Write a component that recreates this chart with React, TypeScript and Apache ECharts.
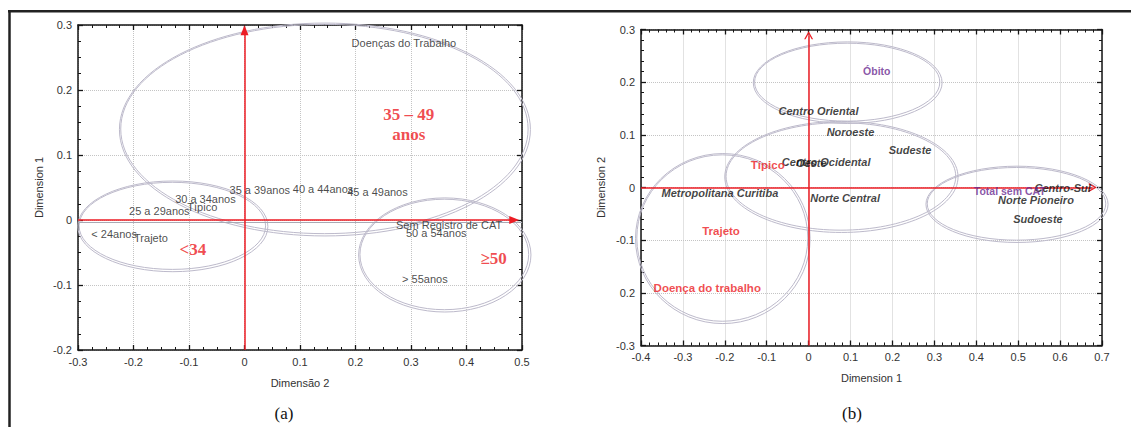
import React, { useEffect, useRef } from "react";
import * as echarts from "echarts";

// ---------- Panel (a) data ----------
const namesA = ["Doenças do Trabalho", "35 a 39anos", "40 a 44anos", "45 a 49anos", "30 a 34anos", "Típico", "25 a 29anos", "< 24anos", "Trajeto", "Sem Registro de CAT", "50 a 54anos", "> 55anos"];
const xA = [0.193, -0.027, 0.087, 0.185, -0.125, -0.103, -0.208, -0.276, -0.199, 0.273, 0.291, 0.284];
const yA = [0.272, 0.046, 0.047, 0.043, 0.033, 0.02, 0.014, -0.021, -0.027, -0.008, -0.02, -0.091];

const groupNamesA = ["35 – 49", "anos", "<34", "≥50"];
const groupXA = [0.296, 0.296, -0.093, 0.449];
const groupYA = [0.162, 0.131, -0.046, -0.059];

// ellipses: [centerX, centerY, radiusX, radiusY]
const ellipsesA = [
  [0.144, 0.14, 0.367, 0.161],
  [-0.13, -0.009, 0.168, 0.067],
  [0.36, -0.053, 0.152, 0.085],
];

const xTicksA = [-0.3, 0.5, 0.1];
const yTicksA = [-0.2, 0.3, 0.1];
const arrowA = { vx: 0, vFrom: -0.2, vTo: 0.292, hy: 0, hFrom: -0.3, hTo: 0.486, zeroGrayY: -0.004 };

// ---------- Panel (b) data ----------
const regionNamesB = ["Centro Oriental", "Noroeste", "Sudeste", "Centro Ocidental", "Oeste", "Metropolitana Curitiba", "Norte Central", "Centro-Sul", "Norte Pioneiro", "Sudoeste"];
const regionXB = [-0.072, 0.043, 0.191, -0.064, -0.03, -0.351, 0.004, 0.539, 0.452, 0.488];
const regionYB = [0.145, 0.105, 0.072, 0.048, 0.046, -0.011, -0.019, 0.0, -0.024, -0.0595];

const typeNamesB = ["Típico", "Trajeto", "Doença do trabalho"];
const typeXB = [-0.138, -0.254, -0.37];
const typeYB = [0.043, -0.082, -0.191];

const outcomeNamesB = ["Óbito", "Total sem CAT"];
const outcomeXB = [0.13, 0.394];
const outcomeYB = [0.222, -0.006];

const ellipsesB = [
  [0.092, 0.2, 0.221, 0.074],
  [0.077, 0.021, 0.274, 0.102],
  [-0.206, -0.096, 0.204, 0.158],
  [0.496, -0.031, 0.213, 0.069],
];

const xTicksB = [-0.4, 0.7, 0.1];
const yTicksB = [-0.3, 0.3, 0.1];
const yTickLabelsB = ["-0.3", "0.2", "-0.1", "0", "0.1", "0.2", "0.3"];
const arrowB = { vx: 0, vFrom: -0.3, vTo: 0.289, hy: 0, hFrom: -0.4, hTo: 0.678 };

// ---------- styles ----------
const RED = "#ec1c24";
const PURPLE = "#6a2a90";
const ELLIPSE = "#bdbacb";
const AXIS = "#151515";
const LABEL_FONT = "Liberation Sans";

function ellipseRender(params: any, api: any) {
  const c = api.coord([api.value(0), api.value(1)]);
  const s = api.size([api.value(2), api.value(3)]);
  const style = { fill: "none", stroke: ELLIPSE, lineWidth: 1 };
  return {
    type: "group",
    children: [
      { type: "ellipse", shape: { cx: c[0], cy: c[1], rx: s[0], ry: s[1] }, style },
      { type: "ellipse", shape: { cx: c[0] + 0.5, cy: c[1] + 0.5, rx: s[0] + 1.8, ry: s[1] + 1.8 }, style },
    ],
  };
}

function baseAxis(t: number[], split: number, gridIndex: number, extra: any) {
  return {
    type: "value",
    gridIndex,
    min: t[0],
    max: t[1],
    interval: t[2],
    axisLine: { show: true, onZero: false, lineStyle: { color: AXIS, width: 1.5 } },
    axisTick: { show: true, inside: true, length: 5, lineStyle: { color: AXIS, width: 1.3 } },
    minorTick: { show: true, splitNumber: split, length: 3, lineStyle: { color: AXIS, width: 1 } },
    splitLine: { show: true, lineStyle: { color: "#c4c4c4", type: "dotted", width: 1 } },
    minorSplitLine: { show: false },
    axisLabel: { color: "#333", fontSize: 11, fontFamily: LABEL_FONT, margin: 6 },
    nameTextStyle: { color: "#333", fontSize: 11, fontFamily: LABEL_FONT },
    ...extra,
  };
}

function mirrorAxis(t: number[], split: number, gridIndex: number, position: string) {
  return baseAxis(t, split, gridIndex, {
    position,
    axisLabel: { show: false },
    splitLine: { show: false },
  });
}

function labelData(names: string[], xs: number[], ys: number[]) {
  return names.map((n, i) => ({ name: n, value: [xs[i], ys[i]] }));
}

export default function App() {
  const ref = useRef<HTMLDivElement>(null);
  useEffect(() => {
    if (!ref.current) return;
    const chart = echarts.init(ref.current, null, { renderer: "svg" });
    const chevron = "path://M0,10L5,0L10,10L8.4,10L5,3L1.6,10Z";
    const option: any = {
      animation: false,
      backgroundColor: "#ffffff",
      grid: [
        { left: 78, right: 609, top: 25, bottom: 77 },
        { left: 641, right: 29, top: 29.5, bottom: 81.5 },
      ],
      xAxis: [
        baseAxis(xTicksA, 4, 0, { position: "bottom", name: "Dimensão 2", nameLocation: "middle", nameGap: 27 }),
        mirrorAxis(xTicksA, 4, 0, "top"),
        baseAxis(xTicksB, 5, 1, { position: "bottom", name: "Dimension 1", nameLocation: "middle", nameGap: 27 }),
        mirrorAxis(xTicksB, 5, 1, "top"),
      ],
      yAxis: [
        baseAxis(yTicksA, 4, 0, { position: "left", name: "Dimension 1", nameLocation: "middle", nameGap: 34 }),
        mirrorAxis(yTicksA, 4, 0, "right"),
        baseAxis(yTicksB, 5, 1, {
          position: "left",
          name: "Dimension 2",
          nameLocation: "middle",
          nameGap: 35,
          axisLabel: {
            color: "#333",
            fontSize: 11,
            fontFamily: LABEL_FONT,
            margin: 6,
            formatter: (v: number) => yTickLabelsB[Math.round((v - yTicksB[0]) / yTicksB[2])] ?? String(v),
          },
        }),
        mirrorAxis(yTicksB, 5, 1, "right"),
      ],
      series: [
        // ----- panel (a)
        {
          type: "custom",
          xAxisIndex: 0,
          yAxisIndex: 0,
          clip: false,
          silent: true,
          renderItem: ellipseRender,
          data: ellipsesA,
          z: 2,
          markLine: {
            silent: true,
            symbol: ["none", "none"],
            label: { show: false },
            lineStyle: { color: "#a9a9b4", width: 1, type: "solid" },
            data: [[{ coord: [xTicksA[0], arrowA.zeroGrayY] }, { coord: [xTicksA[1], arrowA.zeroGrayY] }]],
          },
        },
        {
          type: "scatter",
          xAxisIndex: 0,
          yAxisIndex: 0,
          symbolSize: 0,
          silent: true,
          z: 5,
          data: labelData(namesA, xA, yA),
          label: {
            show: true,
            position: "right",
            distance: 0,
            formatter: "{b}",
            color: "#1a1a1a",
            fontSize: 11,
            fontFamily: LABEL_FONT,
          },
          markLine: {
            silent: true,
            symbol: ["none", "triangle"],
            symbolSize: [8, 10],
            label: { show: false },
            itemStyle: { color: RED },
            lineStyle: { color: RED, width: 1.5, type: "solid" },
            data: [
              [{ coord: [arrowA.vx, arrowA.vFrom] }, { coord: [arrowA.vx, arrowA.vTo] }],
              [{ coord: [arrowA.hFrom, arrowA.hy] }, { coord: [arrowA.hTo, arrowA.hy] }],
            ],
          },
        },
        {
          type: "scatter",
          xAxisIndex: 0,
          yAxisIndex: 0,
          symbolSize: 0,
          silent: true,
          z: 6,
          data: labelData(groupNamesA, groupXA, groupYA),
          label: {
            show: true,
            position: "inside",
            formatter: "{b}",
            color: RED,
            fontSize: 17,
            fontWeight: "bold",
            fontFamily: "Liberation Serif",
          },
        },
        // ----- panel (b)
        {
          type: "custom",
          xAxisIndex: 2,
          yAxisIndex: 2,
          clip: false,
          silent: true,
          renderItem: ellipseRender,
          data: ellipsesB,
          z: 2,
        },
        {
          type: "scatter",
          xAxisIndex: 2,
          yAxisIndex: 2,
          symbolSize: 0,
          silent: true,
          z: 5,
          data: labelData(regionNamesB, regionXB, regionYB),
          label: {
            show: true,
            position: "right",
            distance: 0,
            formatter: "{b}",
            color: "#111",
            fontSize: 11,
            fontStyle: "italic",
            fontWeight: "bold",
            fontFamily: LABEL_FONT,
          },
          markLine: {
            silent: true,
            symbol: ["none", chevron],
            symbolSize: [9, 8],
            label: { show: false },
            itemStyle: { color: RED },
            lineStyle: { color: RED, width: 1.5, type: "solid" },
            data: [
              [{ coord: [arrowB.vx, arrowB.vFrom] }, { coord: [arrowB.vx, arrowB.vTo] }],
              [{ coord: [arrowB.hFrom, arrowB.hy] }, { coord: [arrowB.hTo, arrowB.hy] }],
            ],
          },
        },
        {
          type: "scatter",
          xAxisIndex: 2,
          yAxisIndex: 2,
          symbolSize: 0,
          silent: true,
          z: 6,
          data: labelData(typeNamesB, typeXB, typeYB),
          label: {
            show: true,
            position: "right",
            distance: 0,
            formatter: "{b}",
            color: RED,
            fontSize: 11.5,
            fontWeight: "bold",
            fontFamily: LABEL_FONT,
          },
        },
        {
          type: "scatter",
          xAxisIndex: 2,
          yAxisIndex: 2,
          symbolSize: 0,
          silent: true,
          z: 6,
          data: labelData(outcomeNamesB, outcomeXB, outcomeYB),
          label: {
            show: true,
            position: "right",
            distance: 0,
            formatter: "{b}",
            color: PURPLE,
            fontSize: 10.5,
            fontWeight: "bold",
            fontFamily: LABEL_FONT,
          },
        },
      ],
      graphic: [
        { type: "line", shape: { x1: 8, y1: 11.3, x2: 1131, y2: 11.3 }, style: { stroke: "#222", lineWidth: 2.5 }, silent: true },
        { type: "line", shape: { x1: 9.5, y1: 10, x2: 9.5, y2: 427 }, style: { stroke: "#222", lineWidth: 2.5 }, silent: true },
        {
          type: "text",
          x: 284,
          y: 413,
          style: { text: "(a)", fontSize: 17, fontFamily: "Liberation Serif", align: "center", verticalAlign: "middle", fill: "#111" },
          silent: true,
        },
        {
          type: "text",
          x: 852,
          y: 413,
          style: { text: "(b)", fontSize: 17, fontFamily: "Liberation Serif", align: "center", verticalAlign: "middle", fill: "#111" },
          silent: true,
        },
      ],
    };
    chart.setOption(option);
    return () => chart.dispose();
  }, []);
  return <div ref={ref} style={{ position: "fixed", left: 0, top: 0, width: 1131, height: 427, background: "#fff" }} />;
}
